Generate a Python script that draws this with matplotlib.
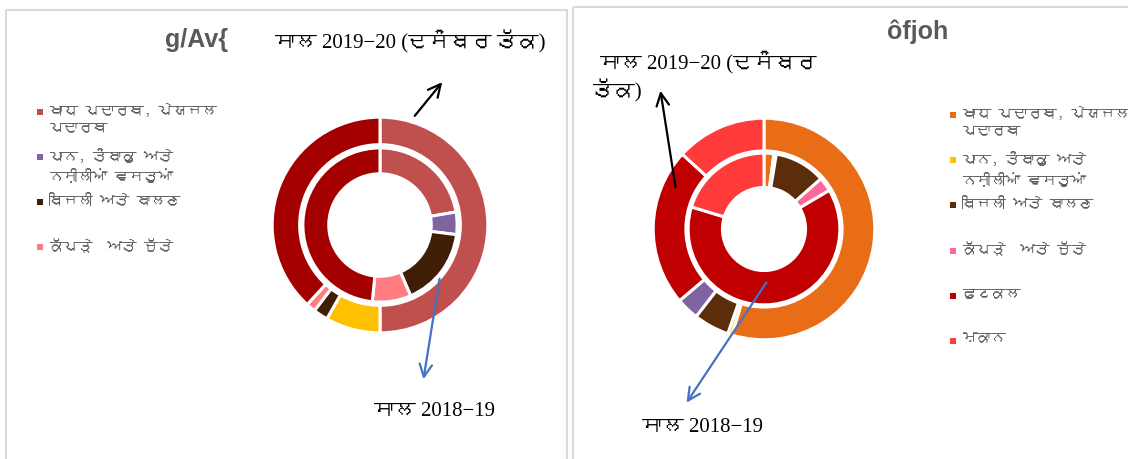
import matplotlib
matplotlib.use("Agg")
import matplotlib.pyplot as plt
from matplotlib import font_manager
from matplotlib.ft2font import FT2Font
from matplotlib.patches import Rectangle

W, H = 1128, 459

# panel 1 (titles come from a legacy font encoding)
left_title = "g/Av{"
left_labels = ["ਖਾਧ ਪਦਾਰਥ, ਪੇਯਜਲ\nਪਦਾਰਥ", "ਪਾਨ, ਤੰਬਾਕੂ ਅਤੇ\nਨਸ਼ੀਲੀਆਂ ਵਸਤੂਆਂ",
               "ਬਿਜਲੀ ਅਤੇ ਬਾਲਣ", "ਕੱਪੜੇ  ਅਤੇ ਜੁੱਤੇ"]
left_2019 = [50.0, 8.2, 2.2, 1.4, 38.2]     # outer ring
left_2018 = [22.3, 4.7, 16.5, 8.1, 48.4]    # inner ring
left_outer_colors = ["#C0504D", "#FFC000", "#3F1D07", "#FF7C80", "#A50000"]
left_inner_colors = ["#C0504D", "#8064A2", "#3F1D07", "#FF7C80", "#A50000"]

# panel 2
right_title = "ôfjoh"
right_labels = ["ਖਾਧ ਪਦਾਰਥ, ਪੇਯਜਲ\nਪਦਾਰਥ", "ਪਾਨ, ਤੰਬਾਕੂ ਅਤੇ\nਨਸ਼ੀਲੀਆਂ ਵਸਤੂਆਂ",
                "ਬਿਜਲੀ ਅਤੇ ਬਾਲਣ", "ਕੱਪੜੇ  ਅਤੇ ਜੁੱਤੇ", "ਫੁਟਕਲ", "ਮਕਾਨ"]
right_2019 = [54.7, 0.6, 5.2, 3.3, 23.0, 13.2]
right_2018 = [2.1, 0.5, 10.9, 3.0, 63.2, 20.3]
right_outer_colors = ["#E96C16", "#FFC000", "#5C2D0A", "#8064A2", "#C00000", "#FF3B3B"]
right_inner_colors = ["#E96C16", "#FFC000", "#5C2D0A", "#FF6699", "#C00000", "#FF3B3B"]

label_2019 = "ਸਾਲ 2019−20 (ਦਸੰਬਰ ਤੱਕ)"
label_2018 = "ਸਾਲ 2018−19"


def gurmukhi_family():
    for f in font_manager.fontManager.ttflist:
        try:
            if 0x0A38 in FT2Font(f.fname).get_charmap():
                return f.name
        except Exception:
            pass
    return None


g = gurmukhi_family()
sans = [g, "DejaVu Sans"] if g else ["DejaVu Sans"]
serif = ["Liberation Serif", g] if g else ["Liberation Serif"]

fig = plt.figure(figsize=(W / 100, H / 100), dpi=100)


def donut(cx, cy, r, outer, inner, oc, ic, ow, ir, iw):
    ax = fig.add_axes([(cx - r) / W, 1 - (cy + r) / H, 2 * r / W, 2 * r / H])
    wp = dict(edgecolor="white", linewidth=2.2)
    ax.pie(outer, colors=oc, radius=1.0, startangle=90, counterclock=False,
           wedgeprops=dict(width=ow, **wp))
    ax.pie(inner, colors=ic, radius=ir, startangle=90, counterclock=False,
           wedgeprops=dict(width=iw, **wp))
    ax.set_xlim(-1.02, 1.02)
    ax.set_ylim(-1.02, 1.02)
    ax.axis("off")
    return ax


donut(380, 225, 110, left_2019, left_2018, left_outer_colors, left_inner_colors,
      0.255, 0.715, 0.24)
donut(764, 229, 113, right_2019, right_2018, right_outer_colors, right_inner_colors,
      0.295, 0.685, 0.31)

# overlay in pixel units for frames, legends, titles and arrows
ov = fig.add_axes([0, 0, 1, 1], facecolor="none")
ov.set_xlim(0, W)
ov.set_ylim(H, 0)
ov.axis("off")

ov.add_patch(Rectangle((6, 10), 561, 460, fill=False, edgecolor="#D9D9D9", lw=1.5))
ov.add_patch(Rectangle((573, 7), 560, 460, fill=False, edgecolor="#D9D9D9", lw=1.5))

ov.text(196, 40, left_title, ha="center", va="center", fontsize=18,
        fontweight="bold", color="#595959", family="Liberation Sans")
ov.text(918, 32, right_title, ha="center", va="center", fontsize=18,
        fontweight="bold", color="#595959", family="Liberation Sans")


def legend(x, y0, step, labels, colors):
    for i, (lab, c) in enumerate(zip(labels, colors)):
        y = y0 + i * step
        ov.scatter([x], [y], marker="s", s=22, color=c, linewidths=0)
        ov.text(x + 9, y - 9, lab, ha="left", va="top", fontsize=10.5,
                color="#595959", family=sans, linespacing=1.45)


legend(40, 112, 45, left_labels, left_inner_colors)
legend(953, 115, 45.2, right_labels, right_inner_colors)

black = dict(arrowstyle="->,head_length=0.9,head_width=0.45", color="black", lw=1.6)
blue = dict(arrowstyle="->,head_length=0.9,head_width=0.45", color="#4472C4", lw=1.6)

ov.annotate("", xy=(444, 80), xytext=(413, 118), arrowprops=black)
ov.annotate("", xy=(423, 382), xytext=(440, 276), arrowprops=blue)
ov.annotate("", xy=(660, 88), xytext=(676, 190), arrowprops=black)
ov.annotate("", xy=(685, 405), xytext=(768, 280), arrowprops=blue)

ov.text(275, 42, label_2019, ha="left", va="center", fontsize=15, family=serif)
ov.text(374, 412, label_2018, ha="left", va="center", fontsize=15, family=serif)
ov.text(600, 62, label_2019.rsplit(" ", 1)[0], ha="left", va="center",
        fontsize=15, family=serif)
ov.text(593, 91, label_2019.rsplit(" ", 1)[1], ha="left", va="center",
        fontsize=15, family=serif)
ov.text(642, 428, label_2018, ha="left", va="center", fontsize=15, family=serif)

fig.savefig("out.png", dpi=100)
